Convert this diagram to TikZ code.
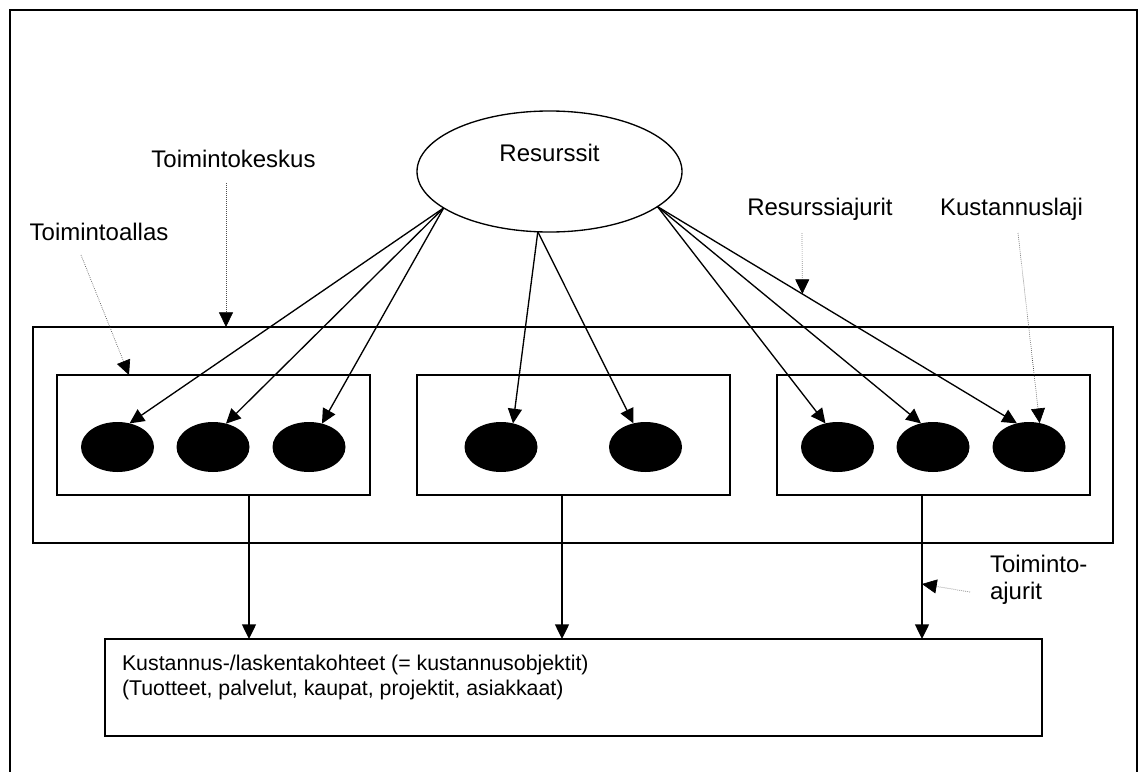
\documentclass[tikz,border=0pt]{standalone}
\usepackage{fontspec}
\setmainfont{Liberation Sans}
\usetikzlibrary{arrows.meta,calc,shapes.geometric}
\begin{document}
\begin{tikzpicture}[x=0.75pt,y=-0.75pt,
  every node/.style={inner sep=0pt, outer sep=0pt},
  lbl/.style={font=\fontsize{18}{20.7}\selectfont},
  boxs/.style={draw, line width=1pt, rectangle},
  blob/.style={ellipse, fill=black, minimum width=54.75pt, minimum height=37.5pt},
  arr/.style={line width=1pt, -{Triangle[length=11pt,width=10.5pt]}},
  darr/.style={densely dotted, line width=0.5pt, draw=black!70, -{Triangle[length=11pt,width=10.5pt,color=black]}}]
\fill[white] (0,0) rectangle (1138,771);
\useasboundingbox (0,0) rectangle (1138,771);
\draw[line width=1.5pt] (10,10) rectangle (1137,800);

% Resources
\node[ellipse, draw, line width=1pt, minimum width=198.75pt, minimum height=90.75pt] (res) at (549.5,171.5) {};
\node[lbl, anchor=base] (rest) at (549.5,161) {Resurssit};

% boxes
\node[boxs, minimum width=810pt, minimum height=162pt] (kesk) at (573,435) {};
\node[boxs, minimum width=234.75pt, minimum height=90pt] (lbox) at (213.5,435) {};
\node[boxs, minimum width=234.75pt, minimum height=90pt] (mbox) at (573.5,435) {};
\node[boxs, minimum width=234.75pt, minimum height=90pt] (rbox) at (933.5,435) {};

\node[blob] (e1) at (117.5,447) {};
\node[blob] (e2) at (213,447) {};
\node[blob] (e3) at (309,447) {};
\node[blob] (e4) at (501,447) {};
\node[blob] (e5) at (645.5,447) {};
\node[blob] (e6) at (837.5,447) {};
\node[blob] (e7) at (933,447) {};
\node[blob] (e8) at (1029,447) {};

\node[boxs, minimum width=702.75pt, minimum height=72.75pt] (kb) at (573.5,687.5) {};
\node[lbl, anchor=north west, align=left, font=\fontsize{16}{18.5}\selectfont] (kbt) at (122,655)
  {Kustannus-/laskentakohteet (= kustannusobjektit)\\(Tuotteet, palvelut, kaupat, projektit, asiakkaat)};

% labels
\node[lbl, anchor=base] (tk) at (233.5,167) {Toimintokeskus};
\node[lbl, anchor=base] (ta) at (99,240) {Toimintoallas};
\node[lbl, anchor=base] (rj) at (820,215) {Resurssiajurit};
\node[lbl, anchor=base] (kl) at (1011.5,215) {Kustannuslaji};
\node[lbl, anchor=north west, align=left] (tj) at (990,555) {Toiminto-\\ajurit};

% resource arrows
\draw[arr] (res.199) -- (e1.63);
\draw[arr] (res.199) -- (e2.61);
\draw[arr] (res.199) -- (e3.61);
\draw[arr] (res.259) -- (e4.63);
\draw[arr] (res.259) -- (e5.117);
\draw[arr] (res.-18) -- (e6.117);
\draw[arr] (res.-18) -- (e7.117);
\draw[arr] (res.-18) -- (e8.117);

% activity arrows
\coordinate (d1) at (249,495);
\coordinate (d2) at (562,495);
\coordinate (d3) at (922,495);
\draw[arr] (d1) -- (d1 |- kb.north);
\draw[arr] (d2) -- (d2 |- kb.north);
\draw[arr] (d3) -- (d3 |- kb.north);

% dotted pointers
\coordinate (tks) at (226,183);
\draw[darr] (tks) -- (tks |- kesk.north);
\coordinate (tas) at (81,255);
\draw[darr] (tas) -- ($(lbox.north west)+(72,0)$);
\coordinate (rjs) at (802,233);
\path (res.-18) -- (e8.117) coordinate[pos=0.403] (rjt);
\draw[darr] (rjs) -- (rjt);
\coordinate (kls) at (1018,233);
\draw[darr] (kls) -- (e8.66);
\coordinate (tjs) at (970,592);
\draw[darr] (tjs) -- ($(d3)!0.618!(d3 |- kb.north)$);
\end{tikzpicture}
\end{document}
